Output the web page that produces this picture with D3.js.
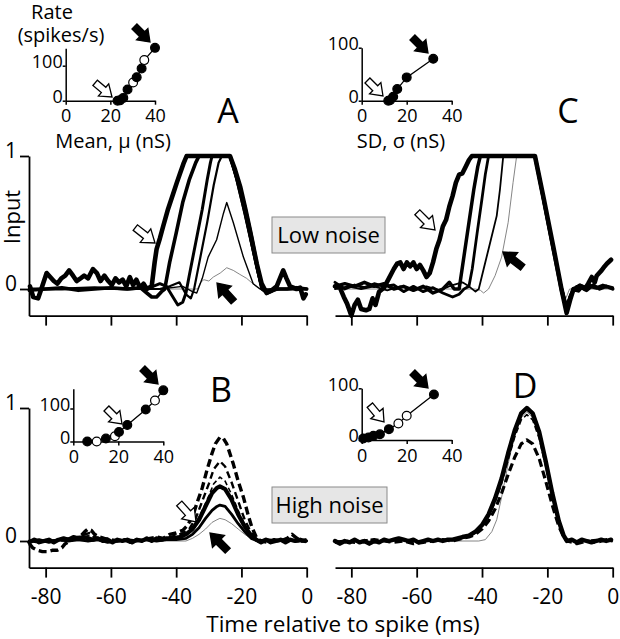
<!DOCTYPE html>
<html><head><meta charset="utf-8">
<script src="https://cdn.jsdelivr.net/npm/d3@7"></script>
<style>body{margin:0;background:#fff}svg{display:block}</style></head>
<body><script>
// ---------------- DATA ----------------
const timeTicks = [-80, -60, -40, -20, 0];
const inputTicks = [0, 1];
const rateTicks = [0, 100];
const condTicks = [0, 20, 40];

// Inset A: rate vs mean (low noise)
const insetA_x = [23.2, 24.3, 25.8, 27.7, 30.2, 31.8, 34, 35.2, 40];
const insetA_y = [0, 1, 8, 32, 52, 67, 92, 116, 151];
const insetA_open = [0, 0, 0, 0, 1, 0, 0, 1, 0];
// Inset B: rate vs mean (high noise)
const insetB_x = [6.2, 10.4, 14.5, 18.5, 20.3, 24, 32.2, 36.3, 40];
const insetB_y = [0, 0, 9, 16, 29, 50, 97, 124, 155];
const insetB_open = [0, 1, 0, 1, 0, 0, 0, 1, 0];
// Inset C: rate vs SD (low noise)
const insetC_x = [11.8, 12.6, 14, 15.8, 20, 31.8];
const insetC_y = [0, 1, 7.5, 22, 44, 79];
const insetC_open = [0, 0, 0, 0, 0, 0];
// Inset D: rate vs SD (high noise)
const insetD_x = [0.7, 3, 5.2, 8.1, 12.1, 16.3, 20, 32.1];
const insetD_y = [3, 5, 8, 11, 21, 32, 47, 88];
const insetD_open = [0, 0, 0, 0, 0, 1, 1, 0];

// Panel A traces [time ms, input]
const A1 = [[-84.8,0.02],[-83.8,-0.06],[-82.3,-0.07],[-81.2,0.01],[-79.7,0.12],[-78.6,0.09],[-77.5,0.06],[-76.4,0.04],[-75.2,0.08],[-74,0.1],[-72.8,0.14],[-71.6,0.1],[-70.5,0.06],[-69.3,0.08],[-68.2,0.1],[-67,0.08],[-65.5,0.15],[-64.3,0.12],[-63.2,0.06],[-62,0.1],[-60.8,0.06],[-59.7,0.03],[-58.6,0.08],[-57.5,0.05],[-56.4,0.07],[-55.3,0.02],[-54.2,0.09],[-53.2,0.03],[-52.2,0.07],[-51.1,0.01],[-50,0.04],[-49,0.0],[-47.5,0.02],[-46.6,0.2],[-46,0.3],[-45,0.38],[-44,0.47],[-42.5,0.6],[-41,0.71],[-39.8,0.8],[-38.8,0.87],[-37.8,0.94],[-36.8,1],[-23.5,1],[-22,0.9],[-20.4,0.77],[-18.8,0.6],[-17.4,0.44],[-15.3,0.19],[-13.8,0.04],[-12.3,-0.03],[-10.7,-0.01],[-9.2,0.02],[-8.2,0.08],[-7.2,0.14],[-6.2,0.08],[-5.1,0.02],[-3.1,0.0],[-2,0.01],[-1,-0.07],[-0.3,-0.04]];
const A2 = [[-85,-0.01],[-80,0.0],[-75,0.01],[-70,-0.01],[-65,0.0],[-60,0.01],[-55,0.0],[-51,0.01],[-49,-0.03],[-47.5,-0.06],[-46,-0.06],[-44.5,-0.02],[-43.5,0.0],[-42,0.2],[-40,0.42],[-38,0.65],[-36,0.82],[-34,0.95],[-33,1],[-23.5,1],[-21.5,0.85],[-19,0.62],[-17,0.4],[-15,0.15],[-13.5,0.0],[-12.5,-0.02],[-10,0.0],[-6,0.0],[-3,0.01],[0,0.0]];
const A3 = [[-85,0.0],[-75,0.0],[-65,0.01],[-55,0.0],[-48,0.01],[-45,0.04],[-43,0.02],[-41,-0.06],[-39.5,-0.12],[-38,-0.1],[-37,-0.03],[-36,0.1],[-34,0.35],[-32,0.6],[-30.5,0.82],[-29.5,0.95],[-29,1],[-23.5,1],[-21.5,0.83],[-19,0.58],[-17,0.36],[-15,0.14],[-13.8,0.0],[-12,-0.03],[-9,0.0],[-4,0.0],[0,0.0]];
const A4 = [[-85,0.0],[-70,0.0],[-55,0.0],[-45,0.0],[-42,0.02],[-39,0.05],[-37,-0.04],[-35.5,-0.07],[-34.5,0.0],[-32.5,0.25],[-30.5,0.5],[-28.5,0.78],[-27,0.95],[-26,1],[-23.5,1],[-21.5,0.82],[-19,0.56],[-17,0.34],[-15,0.12],[-13.8,0.0],[-12,-0.02],[-8,0.0],[0,0.0]];
const A5 = [[-85,0],[-60,0.0],[-45,0.0],[-38,0.02],[-35,-0.02],[-33.7,-0.03],[-32,0.08],[-30.2,0.24],[-27.6,0.37],[-25.5,0.57],[-24.5,0.65],[-22.5,0.5],[-19.4,0.24],[-16.4,0.04],[-14.3,0],[0,0]];
const A6 = [[-85,0],[-33.5,0],[-32.5,0.05],[-31.5,0.07],[-30,0.06],[-28.6,0.09],[-26.5,0.12],[-24.5,0.16],[-22.5,0.14],[-20.5,0.11],[-18.4,0.08],[-16.5,0.04],[-15,0.01],[-14,0],[0,0]];

// Panel C traces
const C1 = [[-85,0.02],[-83.5,0.01],[-82.3,-0.06],[-81.3,-0.11],[-80,-0.2],[-79,-0.12],[-78,-0.08],[-77,-0.15],[-75.5,-0.16],[-74.5,-0.15],[-73.5,-0.07],[-72.6,-0.12],[-71.5,-0.02],[-70,0.01],[-68.5,0.08],[-67,0.15],[-66,0.19],[-65,0.2],[-64,0.15],[-63,0.2],[-62,0.17],[-61,0.2],[-60,0.15],[-59,0.18],[-58,0.14],[-57,0.09],[-56,0.12],[-55,0.2],[-54,0.3],[-53,0.37],[-52,0.47],[-51,0.52],[-50,0.62],[-49,0.7],[-48,0.8],[-47,0.86],[-46,0.87],[-45,0.92],[-44,0.97],[-43.1,1],[-23.8,1],[-21.2,0.69],[-18.2,0.32],[-15.6,-0.01],[-14.1,-0.18],[-13,-0.08],[-12,0.0],[-10.5,-0.01],[-9.5,0.02],[-8.5,0.0],[-7.5,0.04],[-6.4,0.09],[-5.5,0.05],[-4.9,0.1],[-3.4,0.14],[-2.5,0.17],[-1.8,0.19],[-0.5,0.22]];
const C2 = [[-85,0.02],[-82,0.04],[-79,0.02],[-76,0.05],[-73,0.02],[-70,0.04],[-67,0.0],[-64,0.02],[-61,-0.01],[-58,0.02],[-55,-0.03],[-52,0.0],[-50,0.05],[-48.5,0.0],[-47,0.0],[-45.5,0.25],[-44,0.5],[-42.5,0.75],[-41.3,0.92],[-40.5,1],[-23.8,1],[-21.2,0.68],[-18.2,0.3],[-15.6,-0.02],[-14.1,-0.15],[-13,-0.06],[-12,0.0],[-10,0.03],[-8,-0.01],[-6,0.03],[-4,0.0],[-2,0.02],[0,0.0]];
const C3 = [[-85,0.05],[-82,0.0],[-79,0.03],[-76,0.01],[-73,0.04],[-70,0.02],[-67,0.03],[-64,-0.02],[-61,0.02],[-58,-0.02],[-55,0.01],[-52,-0.03],[-49,-0.06],[-47,-0.04],[-45.5,0.0],[-44,0.02],[-43,0.15],[-41.5,0.42],[-40,0.68],[-39,0.86],[-38,1],[-23.8,1],[-21.2,0.67],[-18.2,0.3],[-15.6,0.0],[-14.1,-0.13],[-13,-0.05],[-11,0.02],[-9,0.0],[-7,0.03],[-5,0.01],[-3,0.03],[0,0.01]];
const C4 = [[-85,0.0],[-81,0.02],[-77,0.0],[-73,0.02],[-69,-0.01],[-65,0.02],[-61,0.0],[-57,0.02],[-53,-0.01],[-49,0.03],[-46,0.05],[-44,0.02],[-42,-0.02],[-41,0.0],[-39.5,0.15],[-37.5,0.35],[-35.5,0.55],[-34.5,0.75],[-33.5,1],[-23.8,1],[-21.2,0.7],[-18.2,0.33],[-15.6,0.02],[-14.1,-0.12],[-13,-0.04],[-11,0.01],[-8,0.02],[-5,0.0],[-2,0.02],[0,0.0]];
const C5 = [[-85,0],[-42,0],[-40.5,-0.01],[-39.5,-0.03],[-38,0.0],[-36,0.1],[-34,0.24],[-32,0.5],[-30.5,0.8],[-29.4,1],[-23.8,1],[-21.2,0.7],[-18.2,0.33],[-15.6,0.03],[-14.5,-0.08],[-13.2,0.0],[0,0]];

// Panel B traces (high noise, mean)
const B1 = [[-85,-0.02],[-84,-0.05],[-82.5,-0.07],[-81,-0.08],[-79.5,-0.08],[-78,-0.07],[-76.5,-0.07],[-75,-0.05],[-74,-0.02],[-72.5,0.0],[-71,0.02],[-69.5,0.03],[-68,0.07],[-67,0.09],[-66,0.08],[-65,0.05],[-63.5,0.03],[-62,0.02],[-60,0.01],[-58,0.0],[-56,0.01],[-54,-0.01],[-52,0.01],[-50,0.0],[-48,0.02],[-46,0.03],[-44,0.02],[-42,0.05],[-40,0.06],[-38,0.08],[-36.8,0.11],[-35,0.18],[-33.7,0.28],[-32,0.4],[-30.6,0.53],[-29,0.66],[-28,0.73],[-26.6,0.78],[-25.5,0.77],[-24.5,0.73],[-22.5,0.58],[-21,0.45],[-19.4,0.33],[-18,0.2],[-16.9,0.11],[-15.3,0.02],[-14,0.0],[-12,-0.01],[-10,0.01],[-8,0.0],[-6,0.02],[-4.5,0.05],[-3,0.02],[-1.5,0.0],[0,0.01]];
const B2 = [[-85,0.0],[-82,-0.01],[-79,0.0],[-76,0.01],[-73,0.02],[-70,0.03],[-68,0.05],[-66.5,0.06],[-65,0.03],[-62,0.01],[-59,0.0],[-56,0.01],[-53,0.0],[-50,0.01],[-47,0.01],[-44,0.02],[-42,0.03],[-40,0.04],[-38,0.06],[-36,0.09],[-34,0.17],[-32,0.3],[-30,0.43],[-28.5,0.54],[-26.6,0.6],[-25,0.56],[-23,0.44],[-21,0.3],[-19,0.16],[-17,0.06],[-15,0.01],[-13,0.0],[-10,0.0],[-7,0.01],[-4,0.0],[0,0.0]];
const B3 = [[-85,0.0],[-80,0.01],[-75,0.0],[-70,0.02],[-67,0.04],[-64,0.02],[-60,0.0],[-55,0.01],[-50,0.0],[-45,0.01],[-41,0.02],[-38,0.04],[-36,0.07],[-34,0.13],[-32,0.23],[-30,0.34],[-28.5,0.43],[-26.6,0.48],[-25,0.45],[-23,0.35],[-21,0.23],[-19,0.12],[-17,0.05],[-15,0.01],[-13,0.0],[-8,0.0],[0,0.0]];
const B4 = [[-85,-0.01],[-83.5,0.01],[-82,-0.01],[-80.5,0.0],[-79,0.01],[-77.5,-0.01],[-76,0.01],[-74.5,0.02],[-73,0.01],[-71.5,0.03],[-70,0.02],[-68.5,0.03],[-67,0.02],[-65.5,0.01],[-64,0.02],[-62.5,0.0],[-61,0.01],[-59.5,-0.01],[-58,0.01],[-56.5,0.0],[-55,0.01],[-53.5,-0.01],[-52,0.01],[-50.5,0.0],[-49,0.02],[-47.5,0.0],[-46,0.02],[-44.5,0.01],[-43,0.02],[-41,0.02],[-39,0.03],[-37,0.05],[-35,0.09],[-33,0.16],[-31,0.26],[-29,0.36],[-27.5,0.4],[-26.6,0.41],[-25,0.39],[-23,0.31],[-21,0.2],[-19,0.11],[-17,0.04],[-15.5,0.01],[-14,-0.01],[-12.5,0.01],[-11,-0.01],[-9.5,0.0],[-8,0.01],[-6.5,-0.01],[-5,0.01],[-3.5,0.0],[-2,0.01],[-0.5,0.0]];
const B5 = [[-85,0.0],[-82,0.01],[-79,-0.01],[-76,0.01],[-73,0.0],[-70,0.01],[-67,0.0],[-64,0.01],[-61,-0.01],[-58,0.0],[-55,0.01],[-52,0.0],[-49,0.01],[-46,0.0],[-43,0.01],[-40,0.01],[-37,0.02],[-35,0.05],[-33,0.1],[-31,0.17],[-29,0.23],[-27.5,0.26],[-26.6,0.27],[-25,0.26],[-23,0.2],[-21,0.13],[-19,0.07],[-17,0.02],[-15,0.0],[-12,0.01],[-9,0.0],[-6,0.01],[-3,0.0],[0,0.0]];
const B6 = [[-85,0],[-37,0],[-35,0.02],[-33,0.05],[-31,0.09],[-29,0.14],[-27.5,0.16],[-26.6,0.17],[-25,0.16],[-23,0.13],[-21,0.09],[-19,0.05],[-17,0.02],[-15,0.0],[0,0]];

// Panel D traces (high noise, SD)
const D1 = [[-85,0.0],[-83.5,-0.02],[-82,0.0],[-80.5,-0.01],[-79,0.01],[-77.5,-0.01],[-76,0.0],[-74.5,-0.02],[-73,0.0],[-71.5,-0.01],[-70,0.01],[-68.5,0.0],[-67,0.01],[-65.5,0.02],[-64,0.01],[-62.5,0.0],[-61,0.01],[-59.5,-0.01],[-58,0.0],[-56.5,0.01],[-55,0.0],[-53.5,0.01],[-52,0.0],[-50.5,0.01],[-49,0.01],[-47.5,0.02],[-46,0.03],[-44,0.04],[-42,0.07],[-40,0.12],[-38,0.2],[-36,0.32],[-34,0.47],[-32,0.66],[-30,0.83],[-28,0.96],[-26.3,1.0],[-24.5,0.96],[-22.5,0.82],[-20.5,0.6],[-18.5,0.36],[-16.5,0.15],[-15,0.04],[-14,0.0],[-12.5,0.01],[-11,-0.01],[-9.5,0.01],[-8,0.0],[-6.5,-0.01],[-5,0.0],[-3.5,0.01],[-2,0.0],[-0.5,0.01]];
const D2 = [[-85,0.0],[-80,-0.01],[-75,0.01],[-70,0.0],[-65,0.01],[-60,-0.01],[-55,0.0],[-50,0.01],[-46,0.02],[-44,0.03],[-42,0.06],[-40,0.1],[-38,0.18],[-36,0.29],[-34,0.43],[-32,0.61],[-30,0.78],[-28,0.91],[-26.3,0.95],[-24.5,0.91],[-22.5,0.77],[-20.5,0.56],[-18.5,0.33],[-16.5,0.14],[-15,0.03],[-14,0.0],[-10,0.0],[-5,0.01],[0,0.0]];
const D3 = [[-85,-0.01],[-82,0.0],[-79,-0.01],[-76,0.0],[-73,0.01],[-70,0.0],[-67,-0.01],[-64,0.0],[-61,-0.02],[-58,-0.01],[-55,0.0],[-52,0.01],[-49,0.0],[-46,0.02],[-44,0.03],[-42,0.05],[-40,0.09],[-38,0.15],[-36,0.24],[-34,0.36],[-32,0.5],[-30,0.63],[-28,0.73],[-26.3,0.76],[-24.5,0.73],[-22.5,0.62],[-20.5,0.45],[-18.5,0.27],[-16.5,0.11],[-15,0.03],[-14,0.0],[-11,-0.02],[-8,0.0],[-5,-0.01],[-2,0.01],[0,0.0]];
const D4 = [[-85,0],[-41,0],[-39,0.01],[-37,0.07],[-35.5,0.16],[-34,0.33],[-32,0.58],[-30,0.8],[-28,0.93],[-26.3,0.97],[-24.5,0.93],[-22.5,0.8],[-20.5,0.58],[-18.5,0.34],[-16.5,0.13],[-15,0.03],[-14,0],[0,0]];

// ---------------- DRAWING ----------------
const FONT = "'Open Sans', 'Noto Sans', sans-serif";
const svg = d3.select("body").append("svg").attr("width", 620).attr("height", 639)
  .style("font-family", FONT);
svg.append("rect").attr("width", 620).attr("height", 639).attr("fill", "#fff");

const xL = d3.scaleLinear().domain([-85.1, 0]).range([29, 306.7]);
const xR = d3.scaleLinear().domain([-85, 0]).range([335, 612.7]);
const yTop = d3.scaleLinear().domain([-0.2, 1]).range([315.6, 156]);
const yBot = d3.scaleLinear().domain([-0.2, 1]).range([567.6, 408]);

function xAxis(xs, ys, labels) {
  const ax = d3.axisBottom(xs).tickValues(timeTicks).tickSize(10).tickSizeOuter(0)
    .tickPadding(11).tickFormat(d => labels ? String(d) : "");
  const g = svg.append("g").attr("transform", `translate(0,${ys(-0.2)})`).call(ax);
  g.selectAll("path,line").attr("stroke", "#000").attr("stroke-width", 1.8);
  g.selectAll("text").attr("font-size", 21).attr("font-family", FONT).attr("fill", "#000");
}
function yAxis(xs, ys) {
  const ax = d3.axisLeft(ys).tickValues(inputTicks).tickSize(9).tickSizeOuter(0).tickPadding(3)
    .tickFormat(d3.format("d"));
  const g = svg.append("g").attr("transform", `translate(${xs.range()[0]},0)`).call(ax);
  g.selectAll("path,line").attr("stroke", "#000").attr("stroke-width", 1.8);
  g.selectAll("text").attr("font-size", 21).attr("dy", "0.05em").attr("font-family", FONT).attr("fill", "#000");
}
function traces(xs, ys, list) {
  const line = d3.line().x(d => xs(d[0])).y(d => ys(d[1]));
  list.forEach(c => {
    svg.append("path").attr("d", line(c.data)).attr("fill", "none")
      .attr("stroke", c.color || "#000").attr("stroke-width", c.w)
      .attr("stroke-dasharray", c.dash || null)
      .attr("stroke-linejoin", "round").attr("stroke-linecap", c.dash ? "butt" : "round");
  });
}
function arrow(x, y, ang, filled, L, H, W, S) {
  const pts = [[0,0],[-H,-W],[-H,-S],[-L,-S],[-L,S],[-H,S],[-H,W]];
  svg.append("path").attr("d", "M" + pts.map(p => p.join(",")).join("L") + "Z")
    .attr("transform", `translate(${x},${y}) rotate(${ang})`)
    .attr("fill", filled ? "#000" : "#fff").attr("stroke", "#000")
    .attr("stroke-width", 1.3).attr("stroke-linejoin", "miter");
}
function inset(xs, ys, xv, yv, open) {
  const g = svg.append("g");
  const ax = d3.axisBottom(xs).tickValues(condTicks).tickSize(4).tickSizeOuter(0).tickPadding(5);
  const gx = g.append("g").attr("transform", `translate(0,${ys(0)})`).call(ax);
  const ay = d3.axisLeft(ys).tickValues(rateTicks).tickSize(3).tickSizeOuter(0).tickPadding(0);
  const gy = g.append("g").attr("transform", `translate(${xs(0)},0)`).call(ay);
  [gx, gy].forEach(a => {
    a.selectAll("path,line").attr("stroke", "#000").attr("stroke-width", 1.5);
    a.selectAll("text").attr("font-size", 18).attr("font-family", FONT).attr("fill", "#000");
  });
  gy.selectAll("text").attr("dy", "0.1em");
  const pts = xv.map((v, i) => [v, yv[i], open[i]]);
  g.append("path").attr("d", d3.line().x(d => xs(d[0])).y(d => ys(d[1]))(pts))
    .attr("fill", "none").attr("stroke", "#000").attr("stroke-width", 1.3);
  g.selectAll("circle").data(pts).join("circle")
    .attr("cx", d => xs(d[0])).attr("cy", d => ys(d[1])).attr("r", 4.4)
    .attr("fill", d => d[2] ? "#fff" : "#000").attr("stroke", "#000").attr("stroke-width", 1.2);
}
function txt(x, y, s, size, anchor, extra) {
  const t = svg.append("text").attr("x", x).attr("y", y).attr("font-size", size)
    .attr("text-anchor", anchor || "middle").attr("fill", "#000").text(s);
  if (extra) extra(t);
  return t;
}
function box(x, y, w, h, s) {
  svg.append("rect").attr("x", x).attr("y", y).attr("width", w).attr("height", h)
    .attr("fill", "#e6e6e6").attr("stroke", "#8a8a8a").attr("stroke-width", 1);
  txt(x + w / 2, y + h - 10, s, 22);
}

// Axes
xAxis(xL, yTop, false); xAxis(xR, yTop, false);
xAxis(xL, yBot, true); xAxis(xR, yBot, true);
yAxis(xL, yTop); yAxis(xL, yBot);

// Traces (thin first)
traces(xL, yTop, [
  {data: A6, w: 0.9, color: "#777"}, {data: A5, w: 1.4}, {data: A4, w: 2.2},
  {data: A3, w: 3}, {data: A2, w: 3.6}, {data: A1, w: 4.6}]);
traces(xR, yTop, [
  {data: C5, w: 0.9, color: "#777"}, {data: C4, w: 1.8}, {data: C3, w: 2.8},
  {data: C2, w: 3.5}, {data: C1, w: 4.6}]);
traces(xL, yBot, [
  {data: B6, w: 0.9, color: "#777"}, {data: B3, w: 1.6, dash: "5,3"}, {data: B5, w: 2.8},
  {data: B2, w: 2.4, dash: "7,4"}, {data: B4, w: 4.2}, {data: B1, w: 3.4, dash: "8,4"}]);
traces(xR, yBot, [
  {data: D4, w: 0.9, color: "#777"}, {data: D3, w: 3.2, dash: "8,4"},
  {data: D2, w: 1.6, dash: "6,3"}, {data: D1, w: 4.4}]);

// Insets
inset(d3.scaleLinear().domain([0, 40]).range([65.7, 155]), d3.scaleLinear().domain([0, 150]).range([100.7, 48.2]), insetA_x, insetA_y, insetA_open);
inset(d3.scaleLinear().domain([0, 40]).range([361.7, 451.7]), d3.scaleLinear().domain([0, 100]).range([100.7, 47.7]), insetC_x, insetC_y, insetC_open);
inset(d3.scaleLinear().domain([0, 40]).range([73.3, 163.3]), d3.scaleLinear().domain([0, 160]).range([441.5, 388.7]), insetB_x, insetB_y, insetB_open);
inset(d3.scaleLinear().domain([0, 40]).range([361.7, 451.7]), d3.scaleLinear().domain([0, 100]).range([440, 388.3]), insetD_x, insetD_y, insetD_open);

// Inset arrows
arrow(150, 42, 45, true, 22, 11, 8, 3.5); arrow(112, 97, 40, false, 22, 11, 8, 3.5);
arrow(428, 53, 45, true, 22, 11, 8, 3.5); arrow(383, 96, 45, false, 22, 11, 8, 3.5);
arrow(158, 384, 45, true, 22, 11, 8, 3.5); arrow(122, 424, 45, false, 22, 11, 8, 3.5);
arrow(428, 388, 45, true, 22, 11, 8, 3.5); arrow(384, 422, 50, false, 22, 11, 8, 3.5);
// Main arrows
arrow(155, 243, 38, false, 25, 12, 8.5, 3.5); arrow(217, 283, 228, true, 25, 12, 8.5, 3.5);
arrow(435, 230, 45, false, 25, 12, 8.5, 3.5); arrow(503, 252, 218, true, 25, 12, 8.5, 3.5);
arrow(196, 522, 48, false, 25, 12, 8.5, 3.5); arrow(210, 533, 225, true, 25, 12, 8.5, 3.5);

// Texts
txt(52, 19, "Rate", 20);
txt(61, 42, "(spikes/s)", 20);
txt(113, 148, "Mean, \u03bc (nS)", 20);
txt(401, 148, "SD, \u03c3 (nS)", 20);
txt(228, 123, "A", 34); txt(568, 123, "C", 34);
txt(221, 402, "B", 34); txt(525, 398, "D", 34);
txt(20, 217, "Input", 22, "middle", t => t.attr("transform", "rotate(-90,20,217)"));
box(272, 217, 113, 36, "Low noise");
box(272, 487, 115, 36, "High noise");
txt(343, 632, "Time relative to spike (ms)", 22.5);
</script></body></html>
